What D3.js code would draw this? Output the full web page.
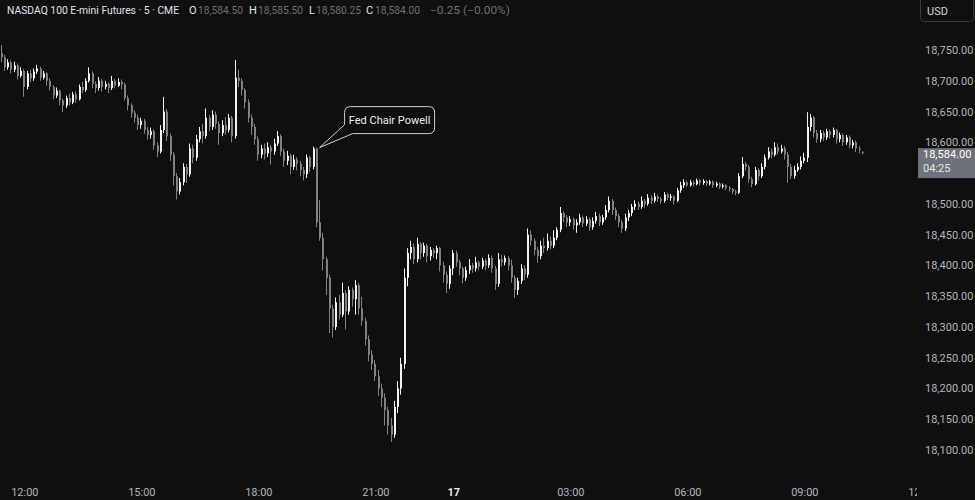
<!DOCTYPE html>
<html><head><meta charset="utf-8">
<script src="https://cdn.jsdelivr.net/npm/d3@7"></script>
<style>html,body{margin:0;padding:0;background:#0f0f0f;overflow:hidden}</style>
</head><body>
<svg id="chart" width="975" height="500"></svg>
<script>
// ---- DATA (5-minute bars, 11:25 → 10:30 next day, daily break 23:00–00:00 removed) ----
const opens = [
18745,18738,18722,18730,18718,18725,18708,18716,18690,18712,
18704,18715,18720,18705,18712,18700,18690,18676,18684,18668,
18660,18672,18665,18678,18670,18690,18685,18700,18712,18695,
18688,18700,18690,18695,18688,18700,18692,18698,18694,18672,
18660,18648,18640,18628,18635,18620,18612,18618,18595,18585,
18620,18650,18610,18580,18545,18520,18535,18560,18548,18590,
18575,18605,18618,18610,18640,18625,18645,18630,18615,18628,
18620,18640,18610,18705,18700,18685,18665,18640,18625,18605,
18580,18590,18582,18592,18585,18598,18610,18585,18570,18578,
18560,18572,18565,18555,18548,18575,18560,18590,18470,18445,
18410,18380,18330,18300,18340,18320,18355,18325,18360,18345,
18368,18330,18310,18280,18255,18240,18220,18200,18185,18165,
18140,18125,18170,18200,18240,18380,18420,18430,18410,18435,
18420,18432,18415,18425,18420,18428,18400,18385,18370,18395,
18420,18405,18395,18380,18392,18400,18395,18405,18398,18408,
18400,18412,18395,18370,18410,18405,18412,18400,18380,18360,
18375,18395,18385,18450,18440,18425,18415,18432,18428,18440,
18432,18445,18458,18485,18478,18470,18475,18465,18470,18478,
18468,18475,18462,18472,18480,18470,18478,18490,18505,18490,
18480,18470,18460,18478,18485,18495,18500,18495,18505,18500,
18510,18505,18512,18508,18505,18515,18510,18512,18505,18522,
18530,18535,18530,18535,18532,18538,18534,18537,18533,18536,
18530,18533,18528,18530,18526,18524,18520,18518,18545,18565,
18560,18540,18532,18555,18545,18560,18575,18585,18580,18592,
18585,18590,18580,18560,18545,18555,18560,18570,18575,18625,
18640,18615,18605,18615,18608,18618,18612,18620,18605,18612,
18600,18608,18595,18600,18590,18584.5];
const highs = [
18758,18742,18735,18733,18731,18728,18722,18719,18716,18718,
18720,18726,18723,18716,18714,18704,18693,18689,18686,18671,
18676,18679,18682,18683,18694,18698,18704,18722,18715,18699,
18706,18703,18700,18698,18708,18703,18704,18702,18697,18676,
18663,18652,18645,18640,18638,18625,18624,18621,18600,18628,
18674,18654,18614,18584,18550,18542,18566,18565,18598,18596,
18612,18625,18630,18655,18644,18652,18650,18634,18636,18641,
18646,18643,18734,18718,18704,18688,18670,18645,18630,18610,
18596,18598,18600,18596,18606,18618,18613,18590,18586,18581,
18580,18576,18570,18560,18580,18578,18593,18592,18506,18453,
18414,18385,18336,18348,18352,18372,18360,18366,18364,18376,
18372,18349,18315,18286,18262,18246,18230,18208,18192,18170,
18152,18180,18212,18250,18395,18428,18440,18436,18445,18438,
18437,18435,18430,18428,18432,18430,18406,18390,18400,18425,
18424,18409,18398,18398,18410,18404,18414,18408,18412,18411,
18418,18416,18399,18420,18417,18416,18415,18409,18384,18380,
18402,18400,18460,18457,18444,18430,18440,18445,18452,18447,
18457,18462,18495,18488,18482,18480,18478,18475,18484,18481,
18480,18478,18478,18487,18484,18482,18498,18512,18508,18494,
18484,18474,18484,18490,18500,18506,18504,18512,18508,18516,
18514,18518,18515,18511,18519,18518,18516,18514,18526,18536,
18540,18538,18539,18538,18541,18540,18540,18539,18539,18538,
18536,18535,18533,18532,18529,18526,18523,18550,18576,18568,
18563,18544,18560,18558,18566,18580,18592,18590,18600,18598,
18596,18594,18584,18565,18562,18566,18577,18583,18649,18646,
18643,18620,18620,18619,18622,18621,18624,18622,18616,18614,
18612,18611,18604,18603,18594,18585.5];
const lows = [
18730,18716,18718,18712,18714,18702,18705,18674,18686,18698,
18700,18711,18700,18702,18692,18684,18670,18672,18660,18649,
18656,18660,18662,18664,18668,18680,18682,18697,18688,18680,
18684,18682,18686,18680,18685,18688,18690,18686,18668,18652,
18640,18632,18620,18622,18614,18604,18606,18588,18576,18582,
18615,18602,18570,18530,18507,18515,18530,18534,18544,18566,
18570,18600,18598,18606,18618,18620,18622,18596,18610,18612,
18616,18600,18606,18690,18676,18655,18632,18612,18596,18570,
18574,18572,18576,18564,18580,18594,18578,18560,18563,18548,
18555,18554,18545,18538,18542,18552,18556,18462,18440,18392,
18352,18290,18283,18295,18312,18316,18296,18320,18333,18320,
18320,18302,18270,18244,18230,18212,18188,18170,18140,18125,
18113,18120,18160,18190,18232,18366,18410,18402,18405,18410,
18414,18405,18408,18412,18410,18390,18372,18355,18362,18384,
18398,18384,18371,18375,18386,18388,18390,18392,18394,18392,
18396,18388,18360,18365,18398,18400,18392,18372,18347,18352,
18370,18376,18380,18432,18416,18404,18410,18420,18424,18426,
18428,18441,18454,18470,18462,18464,18458,18453,18466,18462,
18464,18456,18458,18468,18464,18466,18474,18486,18482,18474,
18462,18453,18456,18472,18480,18490,18490,18492,18494,18497,
18500,18502,18503,18500,18502,18506,18505,18499,18503,18518,
18526,18527,18528,18528,18530,18530,18531,18529,18530,18526,
18527,18524,18525,18522,18520,18516,18514,18516,18542,18554,
18534,18527,18530,18538,18542,18556,18572,18574,18577,18580,
18582,18572,18534,18540,18541,18552,18556,18566,18568,18618,
18608,18599,18600,18602,18604,18606,18608,18598,18600,18594,
18596,18590,18590,18584,18582,18580.25];
const closes = [
18738,18722,18730,18718,18725,18708,18716,18690,18712,18704,
18715,18720,18705,18712,18700,18690,18676,18684,18668,18660,
18672,18665,18678,18670,18690,18685,18700,18712,18695,18688,
18700,18690,18695,18688,18700,18692,18698,18694,18672,18660,
18648,18640,18628,18635,18620,18612,18618,18595,18585,18620,
18650,18610,18580,18545,18520,18535,18560,18548,18590,18575,
18605,18618,18610,18640,18625,18645,18630,18615,18628,18620,
18640,18610,18705,18700,18685,18665,18640,18625,18605,18580,
18590,18582,18592,18585,18598,18610,18585,18570,18578,18560,
18572,18565,18555,18548,18575,18560,18590,18470,18445,18410,
18380,18330,18300,18340,18320,18355,18325,18360,18345,18368,
18330,18310,18280,18255,18240,18220,18200,18185,18165,18140,
18125,18170,18200,18240,18380,18420,18430,18410,18435,18420,
18432,18415,18425,18420,18428,18400,18385,18370,18395,18420,
18405,18395,18380,18392,18400,18395,18405,18398,18408,18400,
18412,18395,18370,18410,18405,18412,18400,18380,18360,18375,
18395,18385,18450,18440,18425,18415,18432,18428,18440,18432,
18445,18458,18485,18478,18470,18475,18465,18470,18478,18468,
18475,18462,18472,18480,18470,18478,18490,18505,18490,18480,
18470,18460,18478,18485,18495,18500,18495,18505,18500,18510,
18505,18512,18508,18505,18515,18510,18512,18505,18522,18530,
18535,18530,18535,18532,18538,18534,18537,18533,18536,18530,
18533,18528,18530,18526,18524,18520,18518,18545,18565,18560,
18540,18532,18555,18545,18560,18575,18585,18580,18592,18585,
18590,18580,18560,18545,18555,18560,18570,18575,18625,18640,
18615,18605,18615,18608,18618,18612,18620,18605,18612,18600,
18608,18595,18600,18590,18588,18584];

const timeTickIndex  = [7, 43, 79, 115, 139, 175, 211, 247, 283];
const timeTickLabels = ["12:00","15:00","18:00","21:00","17","03:00","06:00","09:00","12:00"];
const priceTicks = [18100,18150,18200,18250,18300,18350,18400,18450,18500,18600,18650,18700,18750];

const titleText = "NASDAQ 100 E-mini Futures · 5 · CME";
const ohlcKeys = ["O","H","L","C"];
const ohlcValues = ["18,584.50","18,585.50","18,580.25","18,584.00"];
const changeText = "−0.25 (−0.00%)";
const lastPrice = 18584;
const countdown = "04:25";
const currency = "USD";
const annotationIndex = 96;
const annotationText = "Fed Chair Powell";

// ---- LAYOUT ----
const W = 975, H = 500;
const plotRight = 913;
const BG = "#0f0f0f", UP = "#f2f2f2", DOWN = "#808086", AXIS_TXT = "#b2b5be";
const FONT = "Roboto, 'Liberation Sans', sans-serif";

const svg = d3.select("#chart").style("font-family", FONT);
svg.append("rect").attr("width", W).attr("height", H).attr("fill", BG);

const x = d3.scaleLinear().domain([0, 283]).range([1.6, 921.35]);
const y = d3.scaleLinear().domain([18100, 18750]).range([450, 50]);

const defs = svg.append("defs");
defs.append("clipPath").attr("id","plotClip")
  .append("rect").attr("x",0).attr("y",0).attr("width",plotRight).attr("height",H);
defs.append("clipPath").attr("id","timeClip")
  .append("rect").attr("x",0).attr("y",0).attr("width",917).attr("height",H);

// candles
const bars = d3.range(closes.length).map(i => ({i, o: opens[i], h: highs[i], l: lows[i], c: closes[i]}));
const g = svg.append("g").attr("clip-path","url(#plotClip)");
const cg = g.selectAll("g.c").data(bars).join("g").attr("class","c")
  .attr("fill", d => d.c >= d.o ? UP : DOWN);
cg.append("rect")
  .attr("x", d => Math.round(x(d.i)) - 1).attr("width", 1)
  .attr("y", d => y(d.h)).attr("height", d => Math.max(1, y(d.l) - y(d.h)));
cg.append("rect")
  .attr("x", d => Math.round(x(d.i)) - 1).attr("width", 2)
  .attr("y", d => y(Math.max(d.o, d.c)))
  .attr("height", d => Math.max(1, Math.abs(y(d.o) - y(d.c))));

// time axis (wrapper carries the clip, inner group the translation)
const xAxis = d3.axisBottom(x).tickValues(timeTickIndex)
  .tickFormat((d, k) => timeTickLabels[k]).tickSize(0).tickPadding(0);
const xa = svg.append("g").attr("clip-path","url(#timeClip)")
  .append("g").attr("transform","translate(0,492)").call(xAxis);
xa.select(".domain").remove();
xa.selectAll("text").attr("font-size", 11).attr("font-family", FONT)
  .attr("dy","0.35em")
  .attr("font-weight", (d,k) => timeTickLabels[k] === "17" ? "bold" : null)
  .attr("fill", (d,k) => timeTickLabels[k] === "17" ? "#e6e6e6" : AXIS_TXT);

// price axis
const yAxis = d3.axisRight(y).tickValues(priceTicks).tickFormat(d3.format(",.2f")).tickSize(0).tickPadding(0);
const ya = svg.append("g").attr("transform","translate(925,0)").call(yAxis);
ya.select(".domain").remove();
ya.selectAll("text").attr("fill", AXIS_TXT).attr("font-size", 11).attr("font-family", FONT);

// last price label
const ly = y(lastPrice);
svg.append("rect").attr("x", 918).attr("y", ly - 4).attr("width", 57).attr("height", 30).attr("fill", "#6f727b");
svg.append("text").attr("x", 923).attr("y", ly + 2).attr("dy","0.35em").attr("fill","#ffffff")
  .attr("font-size", 11).text(d3.format(",.2f")(lastPrice));
svg.append("text").attr("x", 923).attr("y", ly + 16).attr("dy","0.35em").attr("fill","#e4e4e4")
  .attr("font-size", 11).text(countdown);

// currency button
svg.append("rect").attr("x", 920.5).attr("y", -4).attr("width", 53).attr("height", 25.5).attr("rx", 4)
  .attr("fill", BG).attr("stroke", "#3a3a3e");
svg.append("text").attr("x", 927).attr("y", 14.5).attr("fill", "#d1d4dc").attr("font-size", 11).text(currency);

// header legend
const hdr = svg.append("g").attr("font-size", 11);
hdr.append("text").attr("x", 7).attr("y", 14).attr("fill", "#e0e3eb")
  .attr("textLength", 172).attr("lengthAdjust", "spacingAndGlyphs").text(titleText);
const keyX = [189, 249, 309, 366];
ohlcKeys.forEach((k, j) => {
  hdr.append("text").attr("x", keyX[j]).attr("y", 14).attr("fill", "#e0e3eb").text(k);
  hdr.append("text").attr("x", keyX[j] + (k === "L" ? 7 : 9)).attr("y", 14).attr("fill", "#6d6f75")
    .attr("textLength", 45).attr("lengthAdjust", "spacingAndGlyphs").text(ohlcValues[j]);
});
hdr.append("text").attr("x", 430).attr("y", 14).attr("fill", "#6d6f75")
  .attr("textLength", 80).attr("lengthAdjust", "spacingAndGlyphs").text(changeText);

// annotation callout
const tipX = x(annotationIndex) + 6, tipY = y(highs[annotationIndex]) + 1;
const bx0 = tipX + 25, by0 = tipY - 41, bw = 90, bh = 27, r = 6;
const path = `M${bx0 + r},${by0} H${bx0 + bw - r} Q${bx0 + bw},${by0} ${bx0 + bw},${by0 + r} V${by0 + bh - r} Q${bx0 + bw},${by0 + bh} ${bx0 + bw - r},${by0 + bh} H${bx0 + 8} L${tipX},${tipY} L${bx0},${by0 + 18} V${by0 + r} Q${bx0},${by0} ${bx0 + r},${by0} Z`;
svg.append("path").attr("d", path).attr("fill", BG).attr("stroke", "#cfcfcf").attr("stroke-width", 1);
svg.append("text").attr("x", bx0 + bw / 2).attr("y", by0 + bh / 2).attr("dy","0.35em")
  .attr("text-anchor","middle").attr("fill","#ececec").attr("font-size", 11).text(annotationText);
</script>
</body></html>
